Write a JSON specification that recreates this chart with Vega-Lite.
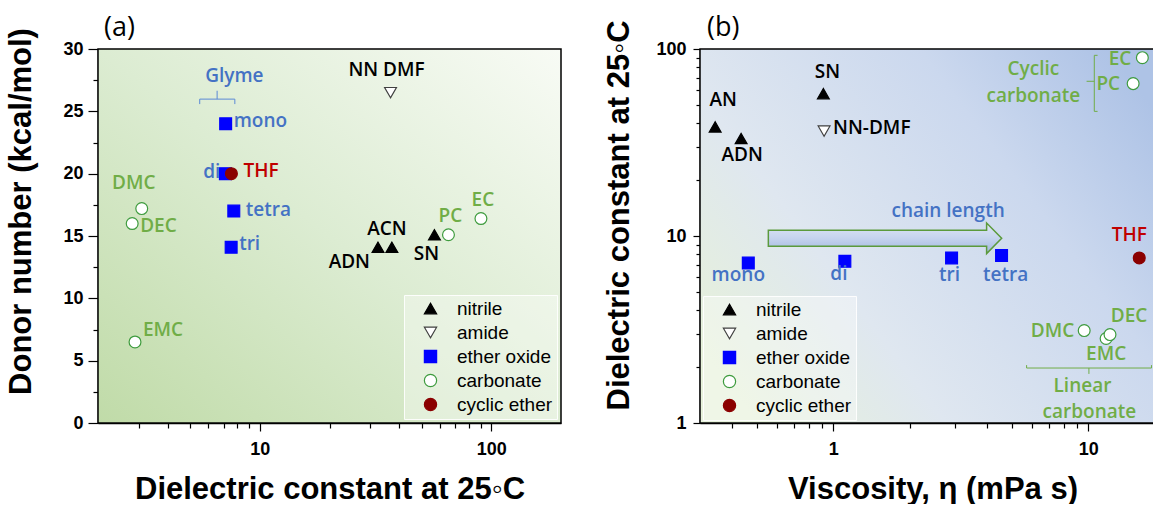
{
  "$schema": "https://vega.github.io/schema/vega-lite/v6.json",
  "background": "white",
  "padding": {"left": 5, "top": 14, "right": 0, "bottom": 0},
  "spacing": 41,
  "datasets": {
    "left": [
      {"name": "ADN", "cls": "nitrile", "x": 32.4, "y": 14.1},
      {"name": "ACN", "cls": "nitrile", "x": 37.2, "y": 14.1},
      {"name": "SN", "cls": "nitrile", "x": 56.8, "y": 15.1},
      {"name": "NN DMF", "cls": "amide", "x": 36.7, "y": 26.5},
      {"name": "mono", "cls": "ether oxide", "x": 7.12, "y": 24.0},
      {"name": "di", "cls": "ether oxide", "x": 7.1, "y": 20.0},
      {"name": "tri", "cls": "ether oxide", "x": 7.52, "y": 14.1},
      {"name": "tetra", "cls": "ether oxide", "x": 7.72, "y": 17.0},
      {"name": "DMC", "cls": "carbonate", "x": 3.09, "y": 17.2},
      {"name": "DEC", "cls": "carbonate", "x": 2.81, "y": 16.0},
      {"name": "EMC", "cls": "carbonate", "x": 2.89, "y": 6.5},
      {"name": "PC", "cls": "carbonate", "x": 65.3, "y": 15.1},
      {"name": "EC", "cls": "carbonate", "x": 90.2, "y": 16.4},
      {"name": "THF", "cls": "cyclic ether", "x": 7.54, "y": 20.0}
    ],
    "right": [
      {"name": "AN", "cls": "nitrile", "x": 0.344, "y": 38.3},
      {"name": "ADN", "cls": "nitrile", "x": 0.435, "y": 33.2},
      {"name": "SN", "cls": "nitrile", "x": 0.914, "y": 57.7},
      {"name": "NN-DMF", "cls": "amide", "x": 0.92, "y": 36.4},
      {"name": "mono", "cls": "ether oxide", "x": 0.464, "y": 7.17},
      {"name": "di", "cls": "ether oxide", "x": 1.11, "y": 7.32},
      {"name": "tri", "cls": "ether oxide", "x": 2.91, "y": 7.63},
      {"name": "tetra", "cls": "ether oxide", "x": 4.57, "y": 7.86},
      {"name": "EC", "cls": "carbonate", "x": 16.3, "y": 89.9},
      {"name": "PC", "cls": "carbonate", "x": 15.0, "y": 65.3},
      {"name": "DMC", "cls": "carbonate", "x": 9.64, "y": 3.12},
      {"name": "EMC", "cls": "carbonate", "x": 11.75, "y": 2.83},
      {"name": "DEC", "cls": "carbonate", "x": 12.17, "y": 2.97},
      {"name": "THF", "cls": "cyclic ether", "x": 15.85, "y": 7.63}
    ],
    "lbox": [{"x": 2, "x2": 200, "y": 0, "y2": 30}],
    "rbox": [{"x": 0.3, "x2": 20, "y": 1, "y2": 100}],
    "lseg": [
      {"x": 5.5, "x2": 7.8, "y": 25.98, "y2": 25.98},
      {"x": 5.5, "x2": 5.5, "y": 25.98, "y2": 25.58},
      {"x": 7.8, "x2": 7.8, "y": 25.98, "y2": 25.58},
      {"x": 6.54, "x2": 6.54, "y": 25.98, "y2": 26.65}
    ],
    "rseg": [
      {"x": 10.56, "x2": 10.56, "y": 46.4, "y2": 92.5},
      {"x": 10.56, "x2": 10.88, "y": 92.5, "y2": 92.5},
      {"x": 10.56, "x2": 10.88, "y": 46.4, "y2": 46.4},
      {"x": 9.85, "x2": 10.56, "y": 67.2, "y2": 67.2},
      {"x": 5.73, "x2": 17.7, "y": 1.968, "y2": 1.968},
      {"x": 5.73, "x2": 5.73, "y": 1.968, "y2": 2.04},
      {"x": 17.7, "x2": 17.7, "y": 1.968, "y2": 2.04},
      {"x": 10.06, "x2": 10.06, "y": 1.968, "y2": 1.83}
    ],
    "lnote": [{"t": "Glyme", "x": 7.76, "y": 27.8}],
    "rnote": [
      {"t": "Cyclic", "x": 6.09, "y": 78.6},
      {"t": "carbonate", "x": 6.09, "y": 56.1},
      {"t": "Linear", "x": 9.49, "y": 1.585},
      {"t": "carbonate", "x": 10.1, "y": 1.14}
    ],
    "bnote": [{"t": "chain length", "x": 2.82, "y": 13.6}],
    "arrow": [{"x": 1.595, "y": 9.72}],
    "lpanel": [{"t": "(a)", "x": 2, "y": 30}],
    "rpanel": [{"t": "(b)", "x": 0.3, "y": 100}]
  },
  "resolve": {
    "scale": {"shape": "independent", "fill": "independent", "stroke": "independent"},
    "legend": {"shape": "independent", "fill": "independent", "stroke": "independent"}
  },
  "hconcat": [
    {
      "width": 463,
      "height": 374,
      "data": {"name": "left"},
      "encoding": {
        "x": {
          "field": "x", "type": "quantitative",
          "scale": {"type": "log", "domain": [2, 200], "nice": false},
          "axis": {
            "title": "Dielectric constant at 25◦C",
            "domain": true,
            "values": [3, 4, 5, 6, 7, 8, 9, 10, 20, 30, 40, 50, 60, 70, 80, 90, 100],
            "labelExpr": "datum.value==10||datum.value==100 ? datum.value+'' : ''",
            "tickSize": {"condition": {"test": "datum.value==10||datum.value==100", "value": 8}, "value": 5},
            "labelPadding": 9,
            "titlePadding": 16
          }
        },
        "y": {
          "field": "y", "type": "quantitative",
          "scale": {"domain": [0, 30], "nice": false, "zero": false},
          "axis": {
            "title": "Donor number (kcal/mol)",
            "domain": true,
            "values": [0, 2.5, 5, 7.5, 10, 12.5, 15, 17.5, 20, 22.5, 25, 27.5, 30],
            "labelExpr": "datum.value%5==0 ? datum.value+'' : ''",
            "tickSize": {"condition": {"test": "datum.value%5==0", "value": 10}, "value": 5},
            "labelPadding": 5,
            "titlePadding": 25,
            "titleY": 162
          }
        }
      },
      "layer": [
        {
          "data": {"name": "lbox"},
          "mark": {"type": "rect", "stroke": "black", "strokeWidth": 1.5,
            "fill": {"gradient": "linear", "x1": 0, "y1": 1, "x2": 1, "y2": 0,
              "stops": [{"offset": 0, "color": "#c0dba8"}, {"offset": 0.5, "color": "#dcecd2"}, {"offset": 1, "color": "#f8fbf5"}]}},
          "encoding": {"x2": {"field": "x2"}, "y2": {"field": "y2"}}
        },
        {
          "data": {"name": "lseg"},
          "mark": {"type": "rule", "color": "#5b8ad6", "strokeWidth": 1},
          "encoding": {"x2": {"field": "x2"}, "y2": {"field": "y2"}}
        },
        {
          "data": {"name": "lnote"},
          "mark": {"type": "text", "color": "#4472c4"},
          "encoding": {"text": {"field": "t"}}
        },
        {
          "data": {"name": "lpanel"},
          "mark": {"type": "text", "align": "left", "baseline": "alphabetic", "dx": 6, "dy": -13, "font": "Open Sans", "fontSize": 27, "fontWeight": "normal", "color": "black"},
          "encoding": {"text": {"field": "t"}}
        },
        {
          "mark": {"type": "point", "filled": true, "opacity": 1, "size": 140, "strokeWidth": 1.2},
          "encoding": {
            "shape": {"field": "cls", "type": "nominal",
              "scale": {"domain": ["nitrile", "amide", "ether oxide", "carbonate", "cyclic ether"], "range": ["triangle-up", "triangle-down", "square", "circle", "circle"]},
              "legend": {"title": null, "orient": "bottom-right", "offset": 4, "fillColor": "rgba(255,255,255,0.35)", "strokeColor": "rgba(255,255,255,0.9)", "padding": 4, "symbolOffset": 13, "labelOffset": 17, "rowPadding": 4, "symbolSize": 150, "symbolStrokeWidth": 1.2}},
            "fill": {"field": "cls", "type": "nominal",
              "scale": {"domain": ["nitrile", "amide", "ether oxide", "carbonate", "cyclic ether"], "range": ["#000000", "#ffffff", "#0000ff", "#ffffff", "#8b0000"]},
              "legend": {"title": null, "orient": "bottom-right", "offset": 4, "fillColor": "rgba(255,255,255,0.35)", "strokeColor": "rgba(255,255,255,0.9)", "padding": 4, "symbolOffset": 13, "labelOffset": 17, "rowPadding": 4, "symbolSize": 150, "symbolStrokeWidth": 1.2}},
            "stroke": {"field": "cls", "type": "nominal",
              "scale": {"domain": ["nitrile", "amide", "ether oxide", "carbonate", "cyclic ether"], "range": ["#000000", "#404040", "#0000ff", "#3e9b3e", "#8b0000"]},
              "legend": {"title": null, "orient": "bottom-right", "offset": 4, "fillColor": "rgba(255,255,255,0.35)", "strokeColor": "rgba(255,255,255,0.9)", "padding": 4, "symbolOffset": 13, "labelOffset": 17, "rowPadding": 4, "symbolSize": 150, "symbolStrokeWidth": 1.2}}
          }
        },
        {"transform": [{"filter": "datum.name=='mono' || datum.name=='tri'"}], "mark": {"type": "text", "align": "left", "dx": 8, "dy": -3, "color": "#4472c4"}, "encoding": {"text": {"field": "name"}}},
        {"transform": [{"filter": "datum.name=='tetra'"}], "mark": {"type": "text", "align": "left", "dx": 12, "dy": -1, "color": "#4472c4"}, "encoding": {"text": {"field": "name"}}},
        {"transform": [{"filter": "datum.name=='di'"}], "mark": {"type": "text", "align": "right", "dx": -5, "dy": -2, "color": "#4472c4"}, "encoding": {"text": {"field": "name"}}},
        {"transform": [{"filter": "datum.name=='THF'"}], "mark": {"type": "text", "align": "left", "dx": 12, "dy": -3, "color": "#c00000"}, "encoding": {"text": {"field": "name"}}},
        {"transform": [{"filter": "datum.name=='DMC'"}], "mark": {"type": "text", "align": "center", "dx": -8, "dy": -26, "color": "#70ad47"}, "encoding": {"text": {"field": "name"}}},
        {"transform": [{"filter": "datum.name=='DEC'"}], "mark": {"type": "text", "align": "left", "dx": 8, "dy": 2, "color": "#70ad47"}, "encoding": {"text": {"field": "name"}}},
        {"transform": [{"filter": "datum.name=='EMC'"}], "mark": {"type": "text", "align": "left", "dx": 8, "dy": -12, "color": "#70ad47"}, "encoding": {"text": {"field": "name"}}},
        {"transform": [{"filter": "datum.name=='PC' || datum.name=='EC'"}], "mark": {"type": "text", "align": "center", "dx": 2, "dy": -18.5, "color": "#70ad47"}, "encoding": {"text": {"field": "name"}}},
        {"transform": [{"filter": "datum.name=='NN DMF'"}], "mark": {"type": "text", "align": "center", "dx": -4, "dy": -23, "color": "black"}, "encoding": {"text": {"field": "name"}}},
        {"transform": [{"filter": "datum.name=='ACN'"}], "mark": {"type": "text", "align": "center", "dx": -5, "dy": -18, "color": "black"}, "encoding": {"text": {"field": "name"}}},
        {"transform": [{"filter": "datum.name=='ADN'"}], "mark": {"type": "text", "align": "right", "dx": -8, "dy": 15, "color": "black"}, "encoding": {"text": {"field": "name"}}},
        {"transform": [{"filter": "datum.name=='SN'"}], "mark": {"type": "text", "align": "center", "dx": -8, "dy": 19, "color": "black"}, "encoding": {"text": {"field": "name"}}}
      ]
    },
    {
      "width": 465,
      "height": 374,
      "data": {"name": "right"},
      "encoding": {
        "x": {
          "field": "x", "type": "quantitative",
          "scale": {"type": "log", "domain": [0.3, 20], "nice": false},
          "axis": {
            "title": "Viscosity, η (mPa s)",
            "domain": true,
            "values": [0.4, 0.5, 0.6, 0.7, 0.8, 0.9, 1, 2, 3, 4, 5, 6, 7, 8, 9, 10, 20],
            "labelExpr": "datum.value==1||datum.value==10 ? datum.value+'' : ''",
            "tickSize": {"condition": {"test": "datum.value==1||datum.value==10", "value": 8}, "value": 5},
            "labelPadding": 9,
            "titlePadding": 16
          }
        },
        "y": {
          "field": "y", "type": "quantitative",
          "scale": {"type": "log", "domain": [1, 100], "nice": false},
          "axis": {
            "title": "Dielectric constant at 25◦C",
            "domain": true,
            "values": [1, 2, 3, 4, 5, 6, 7, 8, 9, 10, 20, 30, 40, 50, 60, 70, 80, 90, 100],
            "labelExpr": "datum.value==1||datum.value==10||datum.value==100 ? datum.value+'' : ''",
            "tickSize": {"condition": {"test": "datum.value==1||datum.value==10||datum.value==100", "value": 7}, "value": 4},
            "labelPadding": 7,
            "titlePadding": 20,
            "titleY": 166
          }
        }
      },
      "layer": [
        {
          "data": {"name": "rbox"},
          "mark": {"type": "rect", "stroke": "black", "strokeWidth": 1.5,
            "fill": {"gradient": "linear", "x1": 0, "y1": 0.8, "x2": 1, "y2": 0.2,
              "stops": [{"offset": 0, "color": "#e6f1da"}, {"offset": 0.3, "color": "#dfe7f0"}, {"offset": 0.7, "color": "#cbd8ee"}, {"offset": 1, "color": "#aec3e6"}]}},
          "encoding": {"x2": {"field": "x2"}, "y2": {"field": "y2"}}
        },
        {
          "data": {"name": "rseg"},
          "mark": {"type": "rule", "color": "#70ad47", "strokeWidth": 1},
          "encoding": {"x2": {"field": "x2"}, "y2": {"field": "y2"}}
        },
        {
          "data": {"name": "rnote"},
          "mark": {"type": "text", "color": "#70ad47"},
          "encoding": {"text": {"field": "t"}}
        },
        {
          "data": {"name": "bnote"},
          "mark": {"type": "text", "color": "#4472c4"},
          "encoding": {"text": {"field": "t"}}
        },
        {
          "data": {"name": "rpanel"},
          "mark": {"type": "text", "align": "left", "baseline": "alphabetic", "dx": 7, "dy": -13, "font": "Open Sans", "fontSize": 27, "fontWeight": "normal", "color": "black"},
          "encoding": {"text": {"field": "t"}}
        },
        {
          "data": {"name": "arrow"},
          "mark": {"type": "point", "filled": true, "opacity": 1, "size": 54440,
            "shape": "M -1 -0.0686 L 0.871 -0.0686 L 0.871 -0.131 L 1 0 L 0.871 0.131 L 0.871 0.0686 L -1 0.0686 Z",
            "stroke": "#5b9a3c", "strokeWidth": 1.5,
            "fill": {"gradient": "linear", "x1": 0, "y1": 0, "x2": 0, "y2": 1,
              "stops": [{"offset": 0, "color": "#dfe7f5"}, {"offset": 0.5, "color": "#c5d3ee"}, {"offset": 1, "color": "#9fb5de"}]}}
        },
        {
          "mark": {"type": "point", "filled": true, "opacity": 1, "size": 140, "strokeWidth": 1.2},
          "encoding": {
            "shape": {"field": "cls", "type": "nominal",
              "scale": {"domain": ["nitrile", "amide", "ether oxide", "carbonate", "cyclic ether"], "range": ["triangle-up", "triangle-down", "square", "circle", "circle"]},
              "legend": {"title": null, "orient": "bottom-left", "offset": 3, "fillColor": "rgba(255,255,255,0.35)", "strokeColor": "rgba(255,255,255,0.9)", "padding": 4, "symbolOffset": 13, "labelOffset": 17, "rowPadding": 4, "symbolSize": 150, "symbolStrokeWidth": 1.2}},
            "fill": {"field": "cls", "type": "nominal",
              "scale": {"domain": ["nitrile", "amide", "ether oxide", "carbonate", "cyclic ether"], "range": ["#000000", "#ffffff", "#0000ff", "#ffffff", "#8b0000"]},
              "legend": {"title": null, "orient": "bottom-left", "offset": 3, "fillColor": "rgba(255,255,255,0.35)", "strokeColor": "rgba(255,255,255,0.9)", "padding": 4, "symbolOffset": 13, "labelOffset": 17, "rowPadding": 4, "symbolSize": 150, "symbolStrokeWidth": 1.2}},
            "stroke": {"field": "cls", "type": "nominal",
              "scale": {"domain": ["nitrile", "amide", "ether oxide", "carbonate", "cyclic ether"], "range": ["#000000", "#404040", "#0000ff", "#3e9b3e", "#8b0000"]},
              "legend": {"title": null, "orient": "bottom-left", "offset": 3, "fillColor": "rgba(255,255,255,0.35)", "strokeColor": "rgba(255,255,255,0.9)", "padding": 4, "symbolOffset": 13, "labelOffset": 17, "rowPadding": 4, "symbolSize": 150, "symbolStrokeWidth": 1.2}}
          }
        },
        {"transform": [{"filter": "datum.name=='AN'"}], "mark": {"type": "text", "align": "center", "dx": 8, "dy": -27, "color": "black"}, "encoding": {"text": {"field": "name"}}},
        {"transform": [{"filter": "datum.name=='ADN'"}], "mark": {"type": "text", "align": "center", "dx": 1, "dy": 16, "color": "black"}, "encoding": {"text": {"field": "name"}}},
        {"transform": [{"filter": "datum.name=='SN'"}], "mark": {"type": "text", "align": "center", "dx": 4, "dy": -22, "color": "black"}, "encoding": {"text": {"field": "name"}}},
        {"transform": [{"filter": "datum.name=='NN-DMF'"}], "mark": {"type": "text", "align": "left", "dx": 9, "dy": -3, "color": "black"}, "encoding": {"text": {"field": "name"}}},
        {"transform": [{"filter": "datum.name=='EC'"}], "mark": {"type": "text", "align": "right", "dx": -11, "dy": 1, "color": "#70ad47"}, "encoding": {"text": {"field": "name"}}},
        {"transform": [{"filter": "datum.name=='PC'"}], "mark": {"type": "text", "align": "right", "dx": -13, "dy": 0, "color": "#70ad47"}, "encoding": {"text": {"field": "name"}}},
        {"transform": [{"filter": "datum.name=='THF'"}], "mark": {"type": "text", "align": "center", "dx": -10, "dy": -23, "color": "#c00000"}, "encoding": {"text": {"field": "name"}}},
        {"transform": [{"filter": "datum.name=='mono'"}], "mark": {"type": "text", "align": "center", "dx": -10, "dy": 12, "color": "#4472c4"}, "encoding": {"text": {"field": "name"}}},
        {"transform": [{"filter": "datum.name=='di'"}], "mark": {"type": "text", "align": "center", "dx": -6, "dy": 13, "color": "#4472c4"}, "encoding": {"text": {"field": "name"}}},
        {"transform": [{"filter": "datum.name=='tri'"}], "mark": {"type": "text", "align": "center", "dx": -2, "dy": 17, "color": "#4472c4"}, "encoding": {"text": {"field": "name"}}},
        {"transform": [{"filter": "datum.name=='tetra'"}], "mark": {"type": "text", "align": "center", "dx": 4, "dy": 19, "color": "#4472c4"}, "encoding": {"text": {"field": "name"}}},
        {"transform": [{"filter": "datum.name=='DMC'"}], "mark": {"type": "text", "align": "right", "dx": -10, "dy": 0, "color": "#70ad47"}, "encoding": {"text": {"field": "name"}}},
        {"transform": [{"filter": "datum.name=='DEC'"}], "mark": {"type": "text", "align": "center", "dx": 19, "dy": -19, "color": "#70ad47"}, "encoding": {"text": {"field": "name"}}},
        {"transform": [{"filter": "datum.name=='EMC'"}], "mark": {"type": "text", "align": "center", "dx": 0, "dy": 15, "color": "#70ad47"}, "encoding": {"text": {"field": "name"}}}
      ]
    }
  ],
  "config": {
    "view": {"stroke": null},
    "text": {"font": "Open Sans", "fontSize": 19, "fontWeight": 600},
    "axis": {
      "zindex": 1, "grid": false,
      "domainColor": "black", "domainWidth": 1.5, "tickColor": "black", "tickWidth": 1.2,
      "labelFont": "Liberation Sans", "labelFontSize": 18, "labelFontWeight": "bold", "labelColor": "black", "labelOverlap": false,
      "titleFont": "Liberation Sans", "titleFontSize": 31, "titleFontWeight": "bold", "titleColor": "black"
    },
    "legend": {"labelFont": "Liberation Sans", "labelFontSize": 19, "labelColor": "black", "labelLimit": 300}
  }
}
